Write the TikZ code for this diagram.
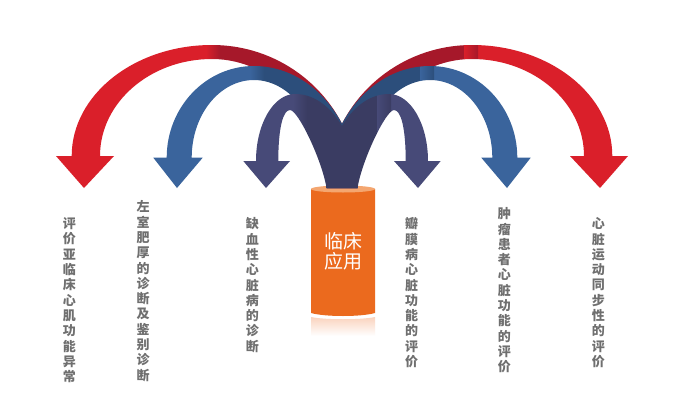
\documentclass[tikz,border=0pt]{standalone}
\usepackage{fontspec}
\newfontfamily\cjk{Noto Sans CJK SC}
\definecolor{redA}{HTML}{DA1F2A}
\definecolor{redB}{HTML}{A6182A}
\definecolor{bluA}{HTML}{3A649C}
\definecolor{bluB}{HTML}{2C4E7B}
\definecolor{purA}{HTML}{474A78}
\definecolor{purB}{HTML}{3A3C62}
\definecolor{orA}{HTML}{EB6A1E}
\definecolor{orT}{HTML}{F4A670}
\definecolor{orR}{HTML}{FAD3BE}
\definecolor{lblgrey}{HTML}{6F6F6F}
\newcommand\redL{\clip (71.7,156) .. controls (71.7,94.7) and (134.6,45) .. (212,45) .. controls (292.3,45) and (357.5,109.1) .. (357.5,188) -- (326.5,188) .. controls (326.5,116.8) and (275.2,59) .. (212,59) .. controls (150.2,59) and (100,102.5) .. (100,156) -- (114,156) -- (84,188) -- (56,156) -- cycle;}
\newcommand\blueL{\clip (166.7,157.7) .. controls (166.7,107.1) and (205.8,66) .. (254,66) .. controls (311.1,66) and (357.5,120.7) .. (357.5,188) -- (326.5,188) .. controls (326.5,128.4) and (294,80) .. (254,80) .. controls (219.6,80) and (191.7,114.8) .. (191.7,157.7) -- (202.7,157.7) -- (177,188) -- (153.3,157.7) -- cycle;}
\newcommand\purpL{\clip (256,161) .. controls (256,124) and (273.5,94) .. (295,94) .. controls (329.5,94) and (357.5,136.1) .. (357.5,188) -- (326.5,188) .. controls (322,160) and (298,110) .. (290,110) .. controls (283,110) and (278.3,128) .. (278.3,161) -- (290,161) -- (266,188) -- (243.3,161) -- cycle;}
\newcommand\band[4]{\begin{scope}#1\fill[#2] (-10,-10) rectangle ({#4-7},420); \shade[left color=#2,right color=#3] ({#4-7},-10) rectangle ({#4+7},420); \fill[#3] ({#4+7},-10) rectangle (700,420);\end{scope}}
\begin{document}
\begin{tikzpicture}[x=1pt,y=-1pt,
  lbl/.style={font=\cjk\bfseries\fontsize{13}{15.3}\selectfont,text=lblgrey,align=center,inner sep=0pt,anchor=north},
  ctr/.style={font=\cjk\fontsize{19}{20}\selectfont,text=white,align=center,inner sep=0pt}]
\useasboundingbox (0,0) rectangle (678,407);
\fill[white] (0,0) rectangle (678,407);
% cylinder
\shade[top color=orR,bottom color=white] (311,317) .. controls (325,320) and (361,320) .. (375,317) -- (375,336) -- (311,336) -- cycle;
\fill[orA] (311,189) -- (311,313) .. controls (325,317) and (361,317) .. (375,313) -- (375,189) -- cycle;
\fill[orT] (343,189) ellipse [x radius=32, y radius=3.5];
% arcs
\band{\redL}{redA}{redB}{213}
\begin{scope}[shift={(684,0)},xscale=-1]\band{\redL}{redA}{redB}{213}\end{scope}
\band{\blueL}{bluA}{bluB}{257}
\begin{scope}[shift={(684,0)},xscale=-1]\band{\blueL}{bluA}{bluB}{257}\end{scope}
\band{\purpL}{purA}{purB}{300}
\begin{scope}[shift={(684,0)},xscale=-1]\band{\purpL}{purA}{purB}{300}\end{scope}
% centre text
\node[ctr] (c) at (343,251.7) {临床\\应用};
% labels
\node[lbl] (l1) at (69.3,217.5) {评\\价\\亚\\临\\床\\心\\肌\\功\\能\\异\\常};
\node[lbl] (l2) at (143,200.5) {左\\室\\肥\\厚\\的\\诊\\断\\及\\鉴\\别\\诊\\断};
\node[lbl] (l3) at (252.3,217.5) {缺\\血\\性\\心\\脏\\病\\的\\诊\\断};
\node[lbl] (l4) at (411.7,217.5) {瓣\\膜\\病\\心\\脏\\功\\能\\的\\评\\价};
\node[lbl] (l5) at (504.3,207.5) {肿\\瘤\\患\\者\\心\\脏\\功\\能\\的\\评\\价};
\node[lbl] (l6) at (598.3,217.5) {心\\脏\\运\\动\\同\\步\\性\\的\\评\\价};
\end{tikzpicture}
\end{document}
